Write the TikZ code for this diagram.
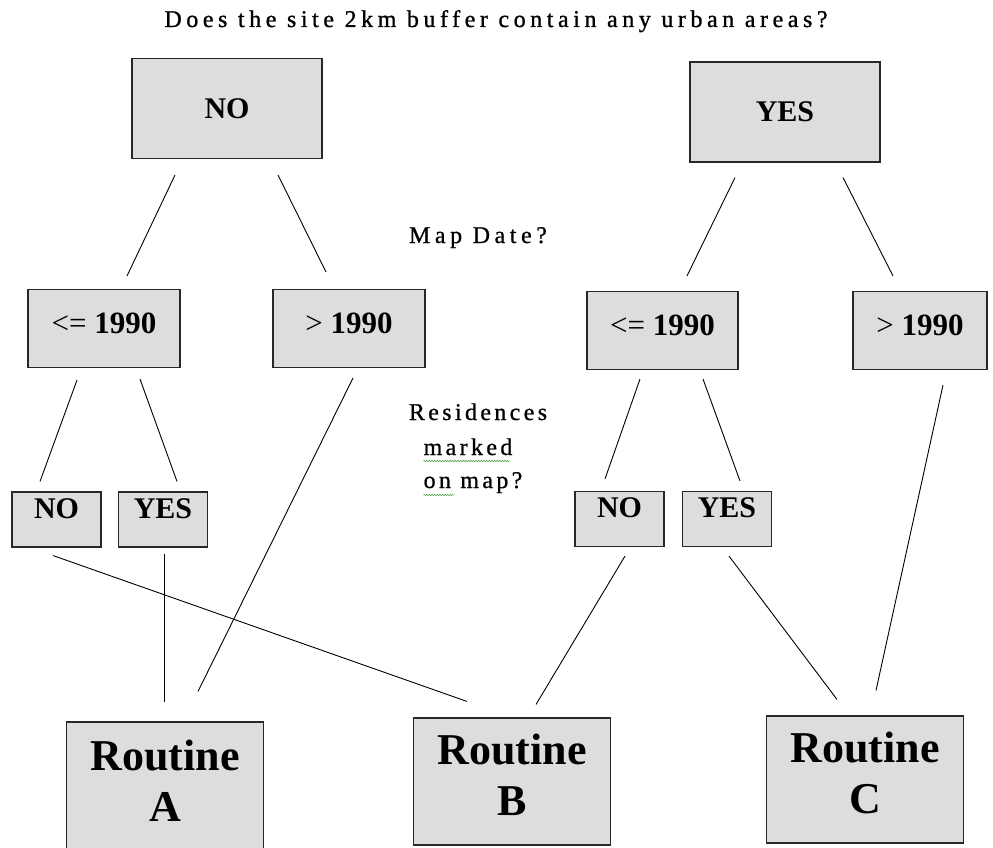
\documentclass[tikz,border=0pt]{standalone}
\usepackage{fontspec}
\setmainfont{Liberation Serif}
\newfontfamily\gfont[LetterSpace=14,FakeBold=0.8]{Liberation Serif}
\newfontfamily\mfont[LetterSpace=19,FakeBold=0.8]{Liberation Serif}
\newfontfamily\tfont[LetterSpace=19,FakeBold=1]{Liberation Serif}
\usetikzlibrary{calc,decorations.pathmorphing}
\definecolor{boxfill}{RGB}{221,221,221}
\definecolor{boxline}{RGB}{40,40,40}
\definecolor{squig}{RGB}{70,160,60}
\begin{document}
\begin{tikzpicture}[x=1pt,y=-1pt,
  box/.style={draw=boxline, line width=1.1pt, fill=boxfill, inner sep=0pt,
    font=\fontsize{30}{32}\selectfont\bfseries},
  topbox/.style={box, minimum width=190pt, minimum height=100pt, text height=19.9pt, text depth=0pt},
  midbox/.style={box, minimum height=78pt, font=\fontsize{31}{33}\selectfont\bfseries,
    text height=21pt, text depth=12pt},
  smallbox/.style={box, minimum width=89pt, minimum height=55pt, text height=19.9pt, text depth=22.9pt},
  routinebox/.style={box, minimum width=197pt, minimum height=127pt, align=center,
    font=\fontsize{44}{51}\selectfont\bfseries, text height=81pt, text depth=13pt},
  link/.style={line width=0.9pt, draw=black},
  question/.style={font=\gfont\fontsize{24}{28}\selectfont, inner sep=0pt, anchor=base},
  squiggle/.style={draw=squig, line width=0.5pt, decorate,
    decoration={snake, amplitude=0.8pt, segment length=2.6pt}}
]
\useasboundingbox[fill=white] (0,0) rectangle (993,848);

% title and questions
\node[question, font=\tfont\fontsize{24}{28}\selectfont] (title) at (496,27)
  {Does the site 2km buffer contain any urban areas?};
\node[question, font=\mfont\fontsize{24}{28}\selectfont] (mapdate) at (478,243) {Map Date?};
\node[question] (res1) at (478,420) {Residences};
\node[question] (res2) at (468,455) {marked};
\node[question] (res3) at (473,488) {on map?};
\draw[squiggle] ($(res2.base west)+(0,6)$) -- ($(res2.base east)+(-3,6)$);
\draw[squiggle] ($(res3.base west)+(0,7)$) -- ($(res3.base west)+(31,7)$);

% boxes
\node[topbox] (noTop) at (227,108.5) {NO};
\node[topbox] (yesTop) at (785,112) {YES};
\node[midbox, minimum width=152pt] (le1) at (104,328.5) {{\mdseries <=} 1990};
\node[midbox, minimum width=152pt] (gt1) at (349,328.5) {{\mdseries >} 1990};
\node[midbox, minimum width=151pt] (le2) at (662.5,330.5) {{\mdseries <=} 1990};
\node[midbox, minimum width=134pt] (gt2) at (920,330.5) {{\mdseries >} 1990};
\node[smallbox] (no1) at (56.5,519.5) {NO};
\node[smallbox] (yes1) at (163,519.5) {YES};
\node[smallbox] (no2) at (619.5,519) {NO};
\node[smallbox] (yes2) at (727,519) {YES};
\node[routinebox, minimum height=131pt] (rA) at (165,787.5) {Routine\\A};
\node[routinebox] (rB) at (512,781.5) {Routine\\B};
\node[routinebox] (rC) at (865,779.5) {Routine\\C};

% connectors
\draw[link] ($(noTop.south)+(-52,16)$) -- ($(le1.north)+(23,-13)$);
\draw[link] ($(noTop.south)+(51,16)$) -- ($(gt1.north)+(-23,-17)$);
\draw[link] ($(yesTop.south)+(-50,15)$) -- ($(le2.north)+(24.5,-15)$);
\draw[link] ($(yesTop.south)+(58,15)$) -- ($(gt2.north)+(-27,-15)$);
\draw[link] ($(le1.south)+(-27,12)$) -- ($(no1.north)+(-16.5,-10)$);
\draw[link] ($(le1.south)+(36,11)$) -- ($(yes1.north)+(14,-10)$);
\draw[link] ($(gt1.south)+(4,10)$) -- ($(rA.north)+(33,-30)$);
\draw[link] ($(le2.south)+(-22.5,9)$) -- ($(no2.north)+(-14.5,-12)$);
\draw[link] ($(le2.south)+(40.5,9)$) -- ($(yes2.north)+(13,-10)$);
\draw[link] ($(gt2.south)+(23,15)$) -- ($(rC.north)+(11,-25)$);
\draw[link] ($(no1.south)+(-3.5,8)$) -- ($(rB.north)+(-45,-16)$);
\draw[link] ($(yes1.south)+(1,6)$) -- ($(rA.north)+(-1,-19)$);
\draw[link] ($(no2.south)+(5.5,9)$) -- ($(rB.north)+(24,-13)$);
\draw[link] ($(yes2.south)+(2,9)$) -- ($(rC.north)+(-28,-16)$);
\end{tikzpicture}
\end{document}
